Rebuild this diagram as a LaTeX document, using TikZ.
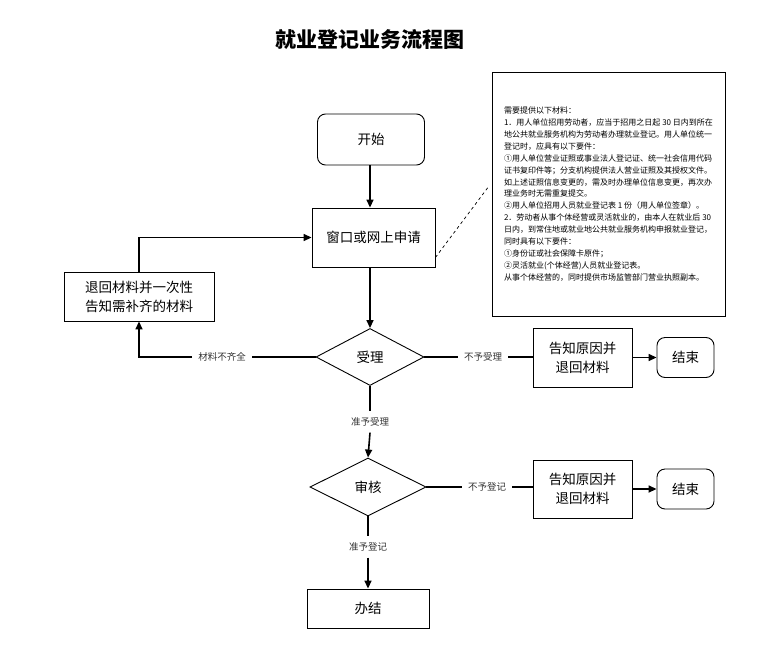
\documentclass[tikz,border=0pt]{standalone}
\usepackage{fontspec}
\setmainfont{Noto Sans CJK SC}
\usetikzlibrary{shapes.geometric,arrows.meta}
\begin{document}
\begin{tikzpicture}[x=1pt,y=-1pt,
  box/.style={draw, line width=0.9pt, inner sep=0pt, align=center, font=\fontsize{13.5}{19}\selectfont},
  rbox/.style={box, rounded corners=8pt},
  dia/.style={draw, diamond, line width=0.9pt, inner sep=0pt, font=\fontsize{13.5}{19}\selectfont},
  lab/.style={inner sep=6pt, font=\fontsize{9.5}{11}\selectfont, text=black!80},
  conn/.style={line width=1.6pt},
  arr/.style={conn, -{Triangle[length=8pt,width=7pt]}}]
\useasboundingbox (0,0) rectangle (773,653);

\node[font=\fontsize{21}{24}\selectfont\bfseries] (title) at (370,40) {就业登记业务流程图};

\node[rbox, minimum width=107pt, minimum height=51pt] (start) at (371,139.5) {开始};
\node[box, minimum width=123pt, minimum height=59pt] (win) at (373.5,237.5) {窗口或网上申请};
\node[box, minimum width=150pt, minimum height=49pt] (left) at (139,296.5) {退回材料并一次性\\告知需补齐的材料};
\node[dia, minimum width=108pt, minimum height=57pt] (d1) at (370,357) {受理};
\node[box, minimum width=99pt, minimum height=59pt] (r1) at (582.5,357.5) {告知原因并\\退回材料};
\node[rbox, minimum width=57pt, minimum height=40pt] (e1) at (685.5,357.5) {结束};
\node[dia, minimum width=116pt, minimum height=58pt] (d2) at (368,487) {审核};
\node[box, minimum width=99pt, minimum height=58pt] (r2) at (582.5,489) {告知原因并\\退回材料};
\node[rbox, minimum width=57pt, minimum height=40pt] (e2) at (685.5,489) {结束};
\node[box, minimum width=122pt, minimum height=39pt] (fin) at (368,608.5) {办结};

\node[draw, line width=0.9pt, minimum width=233pt, minimum height=244pt, inner sep=0pt, align=left,
      font=\fontsize{8}{11.9}\selectfont] (note) at (608.5,194) {%
需要提供以下材料：\\
1．用人单位招用劳动者，应当于招用之日起 30 日内到所在\\
地公共就业服务机构为劳动者办理就业登记。用人单位统一\\
登记时，应具有以下要件：\\
①用人单位营业证照或事业法人登记证、统一社会信用代码\\
证书复印件等；分支机构提供法人营业证照及其授权文件。\\
如上述证照信息变更的，需及时办理单位信息变更，再次办\\
理业务时无需重复提交。\\
②用人单位招用人员就业登记表 1 份（用人单位签章）。\\
2．劳动者从事个体经营或灵活就业的，由本人在就业后 30\\
日内，到常住地或就业地公共就业服务机构申报就业登记，\\
同时具有以下要件：\\
①身份证或社会保障卡原件；\\
②灵活就业(个体经营)人员就业登记表。\\
从事个体经营的，同时提供市场监管部门营业执照副本。};

\node[lab] (lab1) at (222,357) {材料不齐全};
\node[lab] (lab2) at (483,357) {不予受理};
\node[lab] (lab3) at (370,422) {准予受理};
\node[lab] (lab4) at (487,487) {不予登记};
\node[lab] (lab5) at (368,547) {准予登记};

\coordinate (dashend) at (489,186);
\draw[dashed, line width=0.7pt] ([yshift=10pt]win.south east) -- (dashend);

\draw[arr] (start.south -| d1.north) -- (win.north -| d1.north);
\draw[arr] (win.south -| d1.north) -- (d1.north);
\draw[arr] (left.north) |- (win.west);
\draw[conn] (d1.west) -- (lab1.east);
\draw[arr] (lab1.west) -| (left.south);
\draw[conn] (d1.east) -- (lab2.west);
\draw[conn] (lab2.east) -- (r1.west |- lab2.east);
\draw[arr] (r1.east) -- (e1.west);
\draw[conn] (d1.south) -- (lab3.north);
\draw[arr] (lab3.south) -- (d2.north);
\draw[conn] (d2.east) -- (lab4.west);
\draw[conn] (lab4.east) -- (r2.west |- lab4.east);
\draw[arr] (r2.east) -- (e2.west);
\draw[conn] (d2.south) -- (lab5.north);
\draw[arr] (lab5.south) -- (fin.north);
\end{tikzpicture}
\end{document}
